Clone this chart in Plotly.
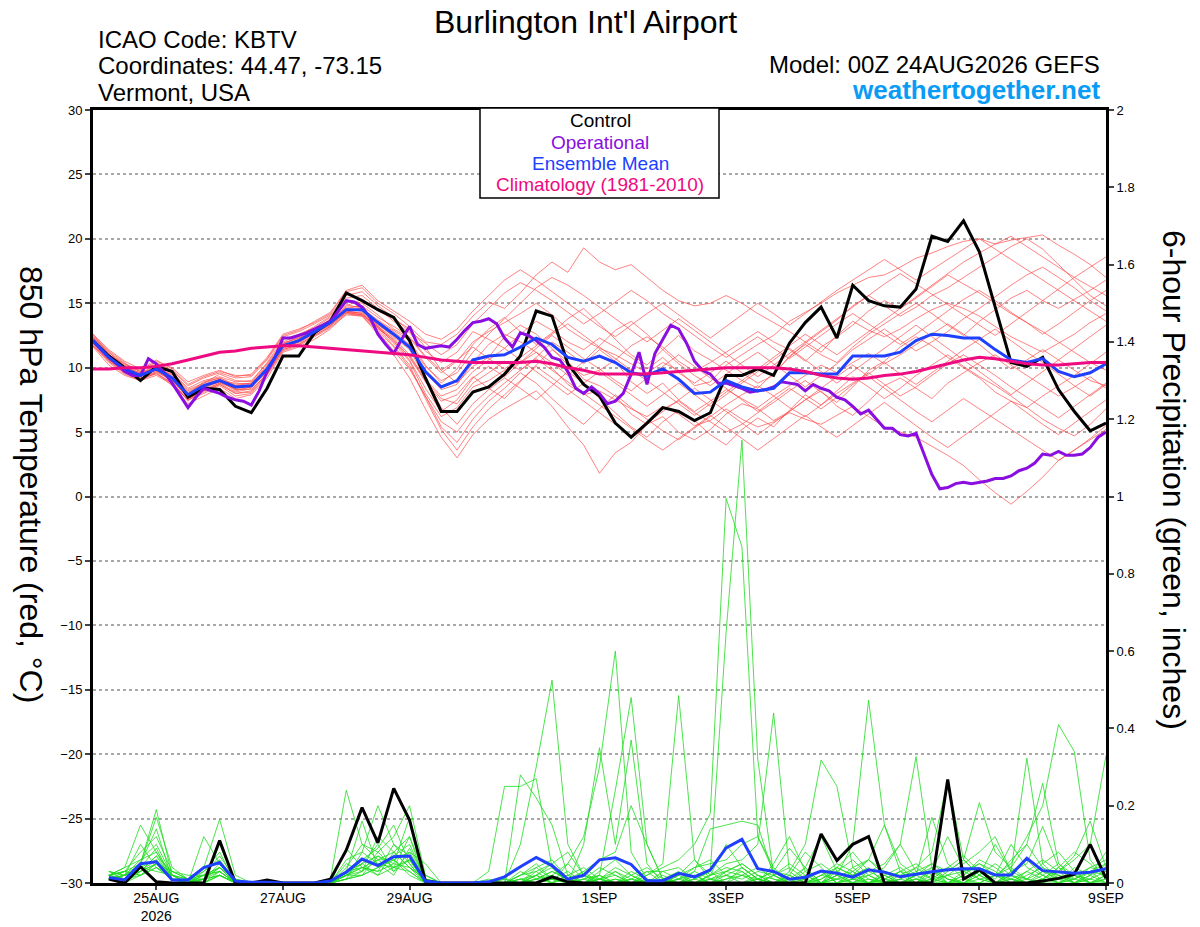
import plotly.graph_objects as go
import pandas as pd

# time axis: GEFS run 00Z 24AUG2026, 6-hourly out to 16 days
times6 = pd.date_range("2026-08-24 00:00", periods=65, freq="6h")
times3 = pd.date_range("2026-08-24 00:00", periods=129, freq="3h")
times_pcp = times6[1:]  # precip starts at the first 6h accumulation

tick_dates = ["2026-08-25", "2026-08-27", "2026-08-29", "2026-09-01",
              "2026-09-03", "2026-09-05", "2026-09-07", "2026-09-09"]
tick_text = ["25AUG<br>2026", "27AUG", "29AUG", "1SEP", "3SEP", "5SEP", "7SEP", "9SEP"]

# 850 hPa temperature (C), 6-hourly
control_t = [12.1, 10.9, 10.0, 9.0, 10.1, 9.7, 7.7, 8.4, 8.3, 7.0,
             6.5, 8.4, 10.9, 10.9, 12.7, 13.6, 15.8, 15.2, 14.5, 13.9,
             12.1, 9.2, 6.6, 6.6, 8.1, 8.5, 9.5, 10.9, 14.4, 14.0,
             10.3, 8.7, 7.8, 5.7, 4.6, 5.7, 6.9, 6.6, 5.9, 6.5,
             9.4, 9.4, 9.9, 9.4, 11.9, 13.5, 14.7, 12.3, 16.4, 15.2,
             14.8, 14.7, 16.1, 20.2, 19.8, 21.4, 19.0, 14.7, 10.4, 10.1,
             10.8, 8.3, 6.6, 5.1, 5.7]

mean_t = [12.1, 10.8, 9.9, 9.4, 9.9, 9.2, 7.9, 8.6, 9.0, 8.5,
          8.6, 9.9, 11.7, 12.1, 12.8, 13.5, 14.5, 14.5, 13.5, 12.6,
          11.6, 9.7, 8.5, 9.0, 10.6, 10.9, 11.0, 11.6, 12.3, 11.8,
          10.8, 10.5, 10.9, 10.4, 9.6, 9.4, 9.9, 9.1, 8.0, 8.1,
          9.0, 8.5, 8.2, 8.4, 9.6, 9.6, 9.5, 9.5, 10.9, 10.9,
          10.9, 11.2, 12.1, 12.6, 12.5, 12.3, 12.3, 11.4, 10.6, 10.4,
          10.7, 9.7, 9.3, 9.6, 10.3]

clim_t = [9.9, 9.9, 10.0, 10.0, 10.1, 10.3, 10.6, 10.9, 11.2, 11.3,
          11.5, 11.6, 11.7, 11.7, 11.6, 11.5, 11.4, 11.3, 11.2, 11.1,
          11.0, 10.8, 10.6, 10.5, 10.4, 10.4, 10.4, 10.4, 10.5, 10.3,
          10.0, 9.8, 9.5, 9.5, 9.5, 9.5, 9.6, 9.7, 9.8, 9.9,
          10.0, 10.0, 10.0, 10.0, 9.9, 9.7, 9.4, 9.2, 9.1, 9.2,
          9.4, 9.5, 9.7, 10.0, 10.3, 10.6, 10.8, 10.7, 10.5, 10.3,
          10.2, 10.2, 10.3, 10.4, 10.4]

# operational run, 3-hourly
oper_t = [12.1, 11.4, 10.8, 10.3, 9.7, 9.4, 9.4, 10.7,
          10.3, 9.6, 8.8, 7.9, 6.9, 7.7, 8.4, 8.2,
          8.0, 7.7, 7.5, 7.4, 7.1, 8.2, 9.7, 10.8,
          12.3, 12.3, 12.5, 12.7, 13.0, 13.3, 13.6, 14.4,
          15.2, 15.1, 14.7, 13.9, 12.6, 11.8, 11.1, 12.2,
          13.2, 11.8, 11.5, 11.6, 11.7, 11.6, 12.2, 12.9,
          13.5, 13.6, 13.8, 13.4, 12.3, 11.6, 12.7, 12.5,
          12.1, 11.6, 10.8, 10.6, 9.7, 8.4, 8.0, 8.5,
          8.0, 7.2, 7.4, 8.0, 9.5, 11.2, 8.7, 11.1,
          12.2, 13.3, 13.0, 11.9, 10.5, 9.8, 9.5, 8.8,
          8.8, 8.6, 8.4, 8.1, 8.2, 8.3, 8.5, 8.9,
          8.8, 8.7, 8.2, 8.7, 8.4, 8.2, 7.7, 7.5,
          7.0, 6.4, 6.7, 6.0, 5.3, 5.3, 4.8, 4.7,
          4.9, 3.3, 1.7, 0.6, 0.7, 1.0, 1.1, 1.0,
          1.1, 1.2, 1.4, 1.4, 1.6, 2.0, 2.2, 2.6,
          3.3, 3.2, 3.5, 3.2, 3.2, 3.3, 3.8, 4.6,
          5.0]

# 20 ensemble members, 850 hPa temperature
members_t = [
    [12.4, 11.2, 10.1, 9.0, 10.2, 9.6, 8.3, 8.8, 9.5, 9.0, 8.9, 10.4, 12.2, 12.6, 13.1,
     13.9, 15.2, 15.0, 14.1, 13.0, 12.3, 10.8, 9.6, 10.5, 12.0, 12.8, 13.5, 14.2, 15.0, 14.1,
     13.0, 12.2, 11.5, 11.0, 10.3, 9.6, 10.4, 9.8, 8.6, 8.9, 10.2, 11.0, 11.8, 12.5, 13.6,
     14.3, 15.0, 15.8, 16.4, 17.0, 17.2, 17.8, 18.5, 18.9, 19.4, 19.8, 20.0, 19.6, 19.9, 20.1,
     20.3, 19.5, 18.8, 18.0, 17.0],
    [11.8, 10.5, 9.6, 9.2, 9.5, 8.8, 7.5, 8.1, 8.7, 8.0, 8.2, 9.6, 11.4, 11.8, 12.5,
     13.2, 14.6, 14.8, 13.2, 11.9, 10.5, 8.0, 6.2, 6.9, 8.5, 9.0, 9.8, 10.4, 11.2, 10.0,
     8.7, 7.9, 8.2, 7.5, 6.8, 6.2, 7.0, 6.4, 5.5, 5.9, 6.8, 6.0, 5.4, 5.8, 6.5,
     6.0, 5.6, 6.3, 7.0, 6.2, 5.4, 5.0, 4.6, 3.9, 3.2, 2.4, 1.3, 0.3, -0.6, 0.4,
     1.5, 2.8, 3.6, 4.5, 5.5],
    [12.6, 11.0, 10.3, 9.8, 10.5, 10.0, 8.9, 9.4, 9.8, 9.3, 9.5, 10.8, 12.6, 13.0, 13.5,
     14.2, 15.9, 16.2, 15.0, 14.2, 13.2, 12.0, 11.8, 12.6, 14.0, 15.1, 14.6, 15.8, 17.2, 18.2,
     17.4, 19.3, 18.2, 17.6, 18.0, 17.0, 16.0, 15.2, 14.8, 15.0, 15.6, 15.0, 14.2, 13.5, 12.8,
     12.0, 11.2, 12.5, 13.6, 12.9, 12.4, 13.0, 13.8, 14.5, 15.0, 14.6, 14.0, 13.2, 12.4, 11.8,
     11.2, 11.9, 12.6, 13.5, 14.2],
    [11.6, 10.2, 9.4, 9.0, 9.6, 8.6, 7.2, 7.8, 8.4, 7.6, 7.9, 9.2, 11.2, 11.6, 12.2,
     13.0, 14.2, 14.0, 12.6, 11.0, 9.2, 6.8, 4.6, 3.0, 4.8, 6.0, 6.8, 7.5, 8.2, 7.0,
     5.4, 4.0, 1.8, 3.4, 4.2, 5.6, 6.2, 5.0, 4.4, 5.2, 6.4, 7.2, 6.8, 5.9, 6.6,
     7.5, 8.2, 7.0, 6.3, 7.4, 8.6, 9.2, 8.4, 7.6, 8.8, 9.6, 10.4, 11.0, 10.2, 9.4,
     8.6, 7.8, 8.5, 9.3, 8.4],
    [12.0, 10.9, 10.0, 9.6, 10.0, 9.4, 8.0, 8.9, 9.2, 8.7, 8.8, 10.0, 11.8, 12.4, 13.0,
     13.6, 14.8, 15.3, 14.4, 13.8, 13.0, 11.6, 9.8, 8.8, 10.1, 10.8, 12.4, 13.3, 12.6, 11.5,
     10.2, 9.4, 9.8, 10.6, 11.7, 12.4, 11.6, 10.5, 9.7, 10.4, 11.2, 12.0, 12.8, 12.0, 11.4,
     10.5, 11.6, 12.4, 13.3, 14.4, 15.2, 14.6, 15.4, 16.3, 17.2, 16.5, 15.8, 15.0, 14.2, 13.5,
     12.8, 12.0, 11.2, 10.4, 9.8],
    [12.3, 11.1, 9.8, 9.1, 9.7, 9.0, 7.7, 8.4, 9.1, 8.3, 8.3, 9.5, 11.5, 11.9, 12.6,
     13.3, 14.3, 14.1, 13.0, 12.2, 10.8, 8.9, 7.4, 7.9, 9.3, 8.4, 7.6, 8.9, 10.2, 11.4,
     10.5, 9.1, 8.6, 7.8, 6.4, 5.6, 6.8, 7.4, 6.5, 5.8, 5.0, 5.6, 6.5, 7.3, 8.2,
     9.0, 8.1, 7.3, 8.5, 9.8, 10.5, 11.6, 12.4, 11.7, 10.8, 10.0, 9.2, 8.1, 7.4, 6.9,
     7.8, 8.6, 9.4, 10.3, 11.2],
    [12.0, 10.6, 9.7, 9.5, 10.1, 9.3, 8.1, 8.6, 8.9, 8.8, 8.7, 10.1, 11.9, 12.3, 12.9,
     13.8, 14.9, 14.6, 13.7, 12.9, 12.1, 10.2, 8.8, 9.9, 11.8, 13.0, 13.9, 12.8, 11.8, 12.7,
     13.8, 14.6, 13.4, 12.2, 11.0, 10.2, 11.4, 12.5, 11.3, 10.6, 9.8, 9.0, 8.4, 9.6, 10.8,
     11.9, 12.8, 13.7, 14.8, 15.6, 14.8, 14.0, 14.7, 15.6, 16.2, 17.0, 17.8, 18.6, 19.4, 20.0,
     19.2, 18.0, 16.8, 15.6, 14.8],
    [12.2, 11.0, 10.2, 9.7, 9.8, 9.1, 7.6, 8.2, 8.8, 8.1, 8.4, 9.7, 11.6, 12.0, 12.7,
     13.4, 14.4, 14.2, 13.1, 12.0, 10.9, 9.0, 7.6, 7.2, 8.8, 9.6, 10.5, 9.8, 10.8, 12.0,
     11.2, 10.3, 11.4, 10.5, 8.9, 8.0, 8.8, 7.5, 6.6, 7.4, 8.3, 7.6, 6.9, 7.8, 8.6,
     9.4, 10.2, 9.6, 10.4, 11.1, 10.3, 11.0, 11.8, 12.6, 13.4, 12.6, 11.8, 10.8, 9.9, 10.6,
     11.4, 10.6, 9.8, 9.0, 8.6],
    [12.5, 11.3, 10.4, 9.3, 10.3, 9.7, 8.4, 9.0, 9.3, 8.9, 9.0, 10.3, 12.0, 12.5, 13.2,
     14.0, 15.4, 15.6, 14.6, 13.6, 12.7, 11.3, 10.4, 11.2, 12.8, 12.2, 11.5, 12.6, 13.6, 12.9,
     12.0, 11.4, 12.3, 11.6, 10.8, 9.9, 10.8, 9.6, 8.8, 9.6, 10.5, 9.6, 8.8, 9.4, 10.9,
     11.8, 11.0, 10.4, 11.6, 12.6, 13.4, 14.2, 15.0, 14.2, 13.3, 12.5, 13.6, 14.5, 15.4, 16.0,
     15.2, 14.6, 15.3, 16.0, 16.8],
    [11.9, 10.7, 9.9, 9.4, 9.9, 8.9, 7.4, 8.5, 9.0, 8.2, 8.5, 9.8, 11.7, 12.2, 12.9,
     13.6, 14.6, 14.4, 13.4, 12.4, 11.4, 9.2, 6.9, 5.6, 7.2, 8.3, 9.2, 8.4, 7.5, 8.6,
     9.7, 8.8, 7.6, 6.5, 5.4, 4.6, 5.8, 6.7, 5.9, 4.8, 4.0, 5.2, 6.1, 5.4, 6.7,
     7.9, 7.1, 8.2, 9.3, 8.5, 7.6, 8.4, 9.4, 10.2, 11.0, 10.1, 9.3, 8.6, 7.8, 6.9,
     6.0, 5.3, 4.7, 5.6, 6.8],
    [12.1, 10.9, 10.0, 9.5, 9.9, 9.5, 8.2, 8.7, 9.1, 8.6, 8.6, 9.9, 11.8, 12.1, 12.8,
     13.5, 14.5, 14.4, 13.3, 12.5, 11.5, 9.6, 8.3, 8.7, 10.4, 11.8, 12.6, 12.0, 11.2, 10.4,
     9.4, 10.5, 11.7, 12.9, 13.6, 12.6, 11.4, 10.3, 9.4, 8.6, 9.5, 10.4, 11.2, 10.3, 9.4,
     8.5, 9.4, 10.3, 11.4, 12.2, 13.0, 12.1, 11.3, 12.0, 12.8, 13.8, 14.6, 15.5, 16.4, 17.2,
     17.8, 17.0, 16.2, 15.2, 14.4],
    [11.7, 10.4, 9.5, 9.0, 9.4, 8.7, 7.5, 8.0, 8.6, 7.8, 8.0, 9.4, 11.3, 11.7, 12.4,
     13.1, 14.1, 14.0, 12.8, 11.3, 9.9, 7.8, 5.4, 4.2, 6.0, 7.4, 8.4, 9.6, 8.8, 7.6,
     6.5, 5.6, 6.8, 7.9, 6.9, 6.0, 5.1, 4.4, 5.3, 6.2, 7.1, 7.9, 8.6, 7.8, 6.9,
     6.2, 7.1, 8.0, 8.8, 9.6, 8.7, 7.8, 8.5, 9.4, 10.3, 11.0, 10.2, 9.4, 8.5, 7.7,
     6.9, 6.1, 7.0, 7.9, 8.8],
    [12.4, 11.2, 10.3, 9.7, 10.4, 9.8, 8.6, 9.2, 9.6, 9.2, 9.3, 10.6, 12.4, 12.8, 13.4,
     14.1, 15.6, 15.9, 14.8, 13.9, 12.8, 11.9, 11.0, 11.8, 13.4, 14.6, 15.8, 16.6, 16.0, 15.2,
     14.3, 13.4, 14.2, 15.1, 16.0, 15.2, 14.2, 13.4, 12.5, 11.6, 10.8, 11.6, 12.4, 11.5, 10.7,
     11.6, 12.5, 13.4, 14.2, 13.4, 12.6, 11.8, 12.6, 13.5, 14.4, 15.3, 16.0, 15.2, 14.3, 13.5,
     12.6, 13.4, 14.3, 15.2, 16.0],
    [11.8, 10.6, 9.7, 9.2, 9.7, 9.0, 7.8, 8.3, 8.8, 8.4, 8.6, 9.8, 11.6, 12.0, 12.7,
     13.4, 14.3, 14.3, 13.2, 12.1, 10.6, 8.4, 6.6, 7.5, 9.2, 10.1, 9.3, 10.4, 11.5, 12.5,
     11.6, 10.7, 9.9, 9.0, 8.2, 9.2, 10.1, 11.0, 10.1, 9.2, 8.4, 7.5, 6.6, 7.5, 8.4,
     7.6, 6.8, 7.7, 8.7, 9.5, 10.4, 9.5, 8.7, 9.6, 10.5, 11.4, 12.2, 13.0, 12.1, 11.2,
     10.4, 9.5, 8.6, 7.8, 8.7],
    [12.3, 10.8, 10.1, 9.6, 10.2, 9.3, 7.9, 8.8, 9.2, 8.6, 8.8, 10.2, 11.9, 12.3, 12.9,
     13.6, 14.7, 14.8, 13.9, 13.2, 12.4, 10.9, 9.8, 10.6, 11.6, 10.7, 9.9, 10.8, 11.7, 12.6,
     13.4, 12.5, 11.6, 10.7, 9.8, 9.0, 8.1, 7.2, 6.3, 7.2, 8.1, 9.0, 9.9, 10.8, 11.7,
     12.6, 11.8, 11.0, 11.9, 12.8, 13.7, 14.6, 15.5, 16.4, 17.3, 18.2, 18.9, 19.6, 20.2, 19.4,
     18.6, 17.8, 17.0, 16.3, 15.6],
    [12.0, 10.6, 9.8, 9.3, 9.8, 9.1, 7.7, 8.4, 8.9, 8.3, 8.5, 9.8, 11.6, 12.0, 12.7,
     13.4, 14.4, 14.2, 13.1, 11.7, 10.2, 7.6, 5.2, 3.6, 5.4, 6.8, 7.9, 9.0, 10.1, 9.2,
     8.3, 7.4, 6.5, 5.6, 4.7, 5.7, 6.6, 7.5, 8.4, 7.5, 6.6, 5.7, 4.8, 5.7, 6.6,
     7.5, 8.4, 9.3, 10.2, 9.3, 8.4, 7.5, 6.6, 5.8, 6.7, 7.6, 6.8, 6.0, 5.2, 4.4,
     3.6, 2.8, 3.6, 4.4, 5.2],
    [12.2, 11.0, 10.0, 9.4, 10.0, 9.2, 7.9, 8.6, 9.0, 8.4, 8.6, 9.9, 11.7, 12.1, 12.8,
     13.5, 14.5, 14.6, 13.6, 12.8, 11.8, 10.1, 9.0, 9.6, 11.2, 12.6, 13.8, 15.0, 16.2, 17.0,
     16.4, 15.6, 14.7, 13.8, 12.9, 12.0, 12.9, 13.8, 12.9, 12.0, 11.1, 10.2, 9.3, 10.2, 11.1,
     12.0, 12.9, 13.8, 14.7, 15.6, 16.5, 17.3, 16.5, 15.7, 14.9, 14.1, 13.3, 12.5, 13.4, 14.3,
     15.2, 16.1, 17.0, 17.8, 18.6],
    [11.9, 10.8, 9.9, 9.5, 9.8, 9.0, 7.8, 8.5, 8.9, 8.5, 8.5, 9.8, 11.6, 12.0, 12.7,
     13.3, 14.3, 14.1, 13.2, 12.3, 11.0, 9.1, 7.8, 8.3, 9.7, 10.6, 11.5, 10.6, 9.7, 8.8,
     7.9, 8.8, 9.7, 8.8, 7.9, 7.0, 7.9, 8.8, 7.9, 7.0, 7.9, 8.8, 9.7, 10.6, 11.5,
     10.6, 9.7, 8.8, 9.7, 10.6, 11.5, 12.4, 13.3, 12.4, 11.5, 10.6, 9.7, 8.8, 7.9, 8.8,
     9.7, 10.6, 11.5, 12.4, 13.3],
    [12.6, 11.4, 10.5, 9.9, 10.6, 9.9, 8.7, 9.3, 9.7, 9.4, 9.4, 10.7, 12.5, 12.9, 13.6,
     14.3, 16.0, 16.4, 15.2, 14.4, 13.6, 12.6, 12.2, 13.0, 14.4, 15.6, 16.8, 17.6, 16.8, 15.9,
     15.0, 14.1, 13.2, 12.4, 13.3, 14.2, 15.0, 14.1, 13.2, 12.3, 13.2, 14.1, 15.0, 14.2, 13.3,
     14.2, 15.1, 16.0, 16.8, 17.6, 18.4, 17.6, 16.8, 17.6, 18.4, 19.2, 20.0, 19.2, 18.4, 17.6,
     16.8, 16.0, 15.2, 14.4, 13.6],
    [11.7, 10.5, 9.6, 9.1, 9.6, 8.8, 7.6, 8.2, 8.7, 8.0, 8.1, 9.5, 11.4, 11.8, 12.5,
     13.2, 14.2, 14.1, 12.9, 11.6, 10.0, 7.8, 5.8, 5.0, 6.6, 7.8, 8.8, 9.8, 10.7, 9.8,
     8.9, 8.0, 7.1, 6.2, 5.3, 4.4, 3.6, 4.5, 5.4, 6.3, 5.4, 4.5, 3.6, 4.5, 5.4,
     6.3, 5.4, 4.6, 5.5, 6.4, 7.3, 6.4, 5.5, 4.6, 3.8, 4.7, 5.6, 6.5, 7.4, 6.5,
     5.6, 4.8, 5.7, 6.6, 7.5],
]

# 6-hour precipitation (inches), from 06Z 24AUG
control_p = [0.01, 0.00, 0.042, 0.003, 0.00, 0.00, 0.00, 0.11,
             0.00, 0.00, 0.008, 0.00, 0.00, 0.00, 0.01, 0.085,
             0.195, 0.104, 0.245, 0.163, 0.005, 0.00, 0.00, 0.00,
             0.00, 0.00, 0.00, 0.00, 0.016, 0.003, 0.00, 0.00,
             0.00, 0.00, 0.00, 0.00, 0.00, 0.00, 0.00, 0.00,
             0.00, 0.00, 0.00, 0.00, 0.00, 0.127, 0.058, 0.10,
             0.12, 0.00, 0.00, 0.00, 0.00, 0.268, 0.01, 0.034,
             0.00, 0.00, 0.00, 0.005, 0.012, 0.023, 0.10, 0.012]

mean_p = [0.014, 0.008, 0.05, 0.055, 0.008, 0.008, 0.04, 0.053,
          0.005, 0.002, 0.002, 0.00, 0.00, 0.00, 0.005, 0.028,
          0.062, 0.045, 0.068, 0.07, 0.005, 0.00, 0.00, 0.00,
          0.003, 0.016, 0.042, 0.066, 0.045, 0.01, 0.02, 0.06,
          0.065, 0.048, 0.006, 0.006, 0.025, 0.016, 0.034, 0.091,
          0.113, 0.037, 0.03, 0.01, 0.015, 0.031, 0.025, 0.015,
          0.034, 0.028, 0.016, 0.023, 0.029, 0.034, 0.037, 0.037,
          0.021, 0.021, 0.064, 0.032, 0.028, 0.025, 0.028, 0.037]

members_p = [
    [.02, .03, .08, .12, .03, .01, .01, .05, 0, 0, 0, 0, 0, 0, 0, .04,
     .10, .06, .03, .08, .01, 0, 0, 0, 0, 0, .10, .30, .525, .10, .02, 0,
     0, .01, 0, 0, 0, 0, .02, .03, .05, .02, 0, 0, .01, .03, 0, 0,
     0, .02, .04, .01, 0, 0, .03, .05, .02, 0, 0, .01, .03, 0, .02, .04],
    [.01, .02, .05, .19, .02, 0, .02, .04, .01, 0, 0, 0, 0, 0, 0, .02,
     .04, .06, .06, .03, 0, 0, 0, 0, 0, .01, 0, .02, .04, 0, 0, .01,
     0, 0, .02, .04, .06, .10, .18, .995, .87, .12, .03, 0, 0, .01, .04, .02,
     0, 0, .01, .03, .05, .02, 0, 0, 0, .03, .06, .02, 0, .01, .03, 0],
    [.03, .01, .04, .06, .01, 0, .03, .06, 0, 0, 0, 0, 0, 0, .01, .24,
     .10, .08, .04, .12, 0, 0, 0, 0, 0, 0, .02, .05, .01, 0, 0, .03,
     .06, .02, 0, 0, 0, .01, .03, .65, 1.146, .32, .02, 0, 0, 0, 0, .03,
     .06, .02, 0, 0, .01, .04, .07, .03, 0, 0, .01, .05, .08, .03, 0, 0],
    [.01, 0, .03, .05, .01, 0, .02, .03, 0, 0, 0, 0, 0, 0, 0, .01,
     .03, .08, .12, .20, .02, 0, 0, 0, 0, 0, .03, .01, 0, .05, .12, .30,
     .60, .08, .01, 0, 0, .02, 0, 0, 0, .01, .03, .02, 0, 0, .02, .10,
     .473, .15, .03, 0, 0, 0, .02, .06, .04, .01, 0, 0, 0, .02, .04, .06],
    [.02, .04, .15, .08, .02, .01, 0, .02, 0, 0, 0, 0, 0, 0, 0, .03,
     .05, .02, .04, .06, .01, 0, 0, 0, 0, 0, 0, .04, .06, .01, 0, .02,
     .24, .48, .10, .01, 0, 0, .01, .02, .04, .01, 0, 0, .03, .05, .02, 0,
     0, .01, 0, .02, .03, 0, 0, .01, .02, .05, .12, .20, .41, .34, .06, .01],
    [.01, .02, .03, .07, .01, 0, .04, .165, .02, 0, 0, 0, 0, 0, 0, .02,
     .06, .09, .15, .05, 0, 0, 0, 0, .01, 0, 0, .02, 0, .01, .03, 0,
     .01, 0, .02, .05, .485, .06, .01, 0, 0, 0, .02, .04, .01, 0, .03, .06,
     .02, 0, 0, .01, 0, .03, .06, .02, 0, .01, 0, .02, .05, .02, 0, .01],
    [.02, .03, .05, .17, .04, .01, .01, .02, 0, 0, 0, 0, 0, 0, 0, .05,
     .03, .12, .08, .04, .01, 0, 0, 0, 0, 0, .01, 0, .02, 0, .01, .04,
     .02, 0, 0, .01, .03, 0, .02, .05, .06, .10, .44, .03, 0, 0, .01, .04,
     .06, .03, 0, 0, .01, .02, .05, .08, .12, .03, .323, .05, .01, 0, .03, .02],
    [.01, .01, .02, .04, .01, 0, 0, .03, 0, 0, 0, 0, 0, 0, 0, .06,
     .08, .20, .10, .05, 0, 0, 0, 0, 0, 0, .02, .04, .01, 0, 0, 0,
     .03, .01, 0, 0, .01, .04, .06, .02, 0, .01, 0, .03, .10, .318, .25, .04,
     .01, 0, .03, .05, .02, 0, 0, .03, .01, .06, .10, .04, 0, .02, .01, 0],
    [.03, .02, .06, .10, .02, 0, .01, .04, 0, 0, 0, 0, 0, 0, 0, .01,
     .02, .04, .07, .10, .01, 0, 0, 0, 0, .01, 0, .03, .05, 0, .10, .35,
     .10, .37, .05, 0, 0, .01, .03, 0, .02, .04, .01, 0, 0, .02, .05, .03,
     0, 0, .01, .04, .08, .266, .06, .02, 0, .01, 0, .03, .02, 0, .01, .05],
    [.01, 0, .02, .05, .03, .02, .02, .07, .01, 0, 0, 0, 0, 0, 0, .02,
     .04, .03, .10, .07, 0, 0, 0, 0, .03, .25, .25, .27, .04, 0, .01, .02,
     0, 0, .01, 0, .02, 0, 0, .01, .03, 0, .02, .05, .02, 0, 0, .01,
     0, .03, .02, 0, .04, .01, 0, 0, .02, .04, .01, 0, .03, .06, .10, .33],
    [.02, .01, .04, .09, .01, .01, .03, .08, 0, 0, 0, 0, 0, 0, 0, .03,
     .06, .05, .02, .09, .01, 0, 0, 0, 0, 0, .28, .22, .15, .02, 0, .01,
     .03, 0, 0, .02, 0, .03, .01, 0, 0, .02, 0, .01, .04, 0, .02, 0,
     .03, .05, .10, .327, .04, 0, .01, .03, 0, .02, 0, .01, .04, 0, .02, 0],
    [.01, .02, .03, .06, .02, 0, .12, .05, 0, 0, 0, 0, 0, 0, 0, .03,
     .16, .04, .06, .02, 0, 0, 0, 0, 0, 0, 0, .01, .03, .01, 0, 0,
     0, .02, .04, .01, 0, 0, .01, .03, .02, 0, 0, 0, .01, .03, 0, .02,
     .04, 0, 0, .02, .05, .03, .06, .208, .08, .04, .10, .258, .05, .01, 0, .02],
    [.02, .03, .02, .04, .01, 0, .01, .04, 0, 0, 0, 0, 0, 0, 0, .01,
     .02, .07, .05, .17, .01, 0, 0, 0, 0, 0, .01, .02, 0, .02, .04, .01,
     0, 0, 0, .03, .01, .02, 0, 0, .04, .01, 0, .02, 0, .02, .04, .02,
     .06, .15, .05, .02, .17, .05, .01, 0, .02, .01, .03, .06, .03, .07, .16, .04],
    [.02, .01, .05, .14, .01, .01, .02, .03, 0, 0, 0, 0, 0, 0, 0, .09,
     .04, .03, .05, .04, 0, 0, 0, 0, 0, 0, 0, 0, .01, .03, 0, .01,
     .02, 0, .01, 0, .02, .06, .02, .04, .03, 0, .05, .12, .03, 0, .01, .02,
     0, .01, .03, 0, .02, .04, .03, .01, 0, .03, .05, .146, .04, .02, 0, .01],
    [.03, .02, .10, .04, .02, 0, .01, .10, 0, 0, 0, 0, 0, 0, 0, .03,
     .05, .10, .03, .06, 0, 0, 0, 0, 0, 0, .01, 0, .02, 0, .03, .06,
     .08, .20, .10, .01, 0, 0, 0, .02, .01, .03, .02, 0, .04, .12, .03, 0,
     .01, 0, .02, .04, .01, 0, 0, .02, .05, .02, 0, .01, 0, .04, .02, .08],
    [.01, .02, .03, .05, .01, 0, .01, .02, 0, 0, 0, 0, 0, 0, 0, .02,
     .03, .06, .08, .12, .02, 0, 0, 0, 0, 0, 0, .02, .05, .08, .02, 0,
     .01, 0, 0, .01, .02, .04, .05, .06, .10, .12, .04, 0, 0, .01, .03, .01,
     0, .02, 0, .01, .03, .01, 0, .02, .10, .03, .01, 0, .02, .01, .04, .03],
    [.02, .04, .06, .08, .01, 0, 0, .02, 0, 0, 0, 0, 0, 0, 0, .01,
     .08, .05, .04, .03, 0, 0, 0, 0, 0, 0, 0, .01, .02, .05, .01, 0,
     0, .01, .03, 0, .01, 0, .02, .10, .04, .01, 0, .02, .08, .04, 0, .01,
     .02, 0, .01, 0, .03, .12, .04, .01, 0, .02, .01, .03, .01, .03, 0, .02],
    [.01, .02, .04, .03, .02, .01, 0, .02, 0, 0, 0, 0, 0, 0, 0, .02,
     .02, .04, .06, .08, .05, 0, 0, 0, 0, 0, 0, 0, .01, 0, .02, .01,
     0, 0, .03, .03, .04, .01, 0, .03, .05, .02, .01, 0, .02, 0, .04, .08,
     .03, .01, 0, .02, 0, .02, .03, .04, .02, .10, .04, .02, 0, .01, .03, .05],
    [.02, .01, .03, .07, .03, .01, .02, .04, 0, 0, 0, 0, 0, 0, 0, .02,
     .05, .07, .04, .06, 0, 0, 0, 0, 0, 0, .02, .03, 0, .02, 0, .01,
     .04, .02, 0, 0, .01, .03, .14, .15, .16, .15, .02, 0, 0, .02, .01, 0,
     .02, .04, .10, .03, .01, 0, .02, .05, .03, 0, .02, .04, .02, 0, .01, .03],
    [.01, .03, .02, .05, .01, 0, .01, .03, 0, 0, 0, 0, 0, 0, 0, .03,
     .04, .02, .08, .04, .01, 0, 0, 0, 0, 0, 0, .01, .03, .01, 0, .02,
     0, .03, .01, 0, 0, .02, 0, .01, .02, .01, .03, .09, .04, 0, .02, .03,
     0, .01, .03, .02, .04, .01, 0, .03, .02, 0, .03, .01, .04, .08, .05, .01],
]

# colours
RED = "rgba(255,70,70,0.85)"
GREEN = "rgb(30,220,30)"
PURPLE = "#8a0ee0"
BLUE = "#2040ff"
MAGENTA = "#ee0a80"
FONT = "Liberation Sans, Arial, Helvetica, sans-serif"

fig = go.Figure()

for m in members_t:
    fig.add_trace(go.Scatter(x=times6, y=m, mode="lines",
                             line=dict(color=RED, width=0.8), yaxis="y"))
for m in members_p:
    fig.add_trace(go.Scatter(x=times_pcp, y=m, mode="lines",
                             line=dict(color=GREEN, width=0.8), yaxis="y2"))

# precip: control + ensemble mean
fig.add_trace(go.Scatter(x=times_pcp, y=control_p, mode="lines",
                         line=dict(color="black", width=3), yaxis="y2"))
fig.add_trace(go.Scatter(x=times_pcp, y=mean_p, mode="lines",
                         line=dict(color=BLUE, width=3), yaxis="y2"))

# temperature: control, operational, mean, climatology
fig.add_trace(go.Scatter(x=times6, y=control_t, mode="lines",
                         line=dict(color="black", width=3), yaxis="y"))
fig.add_trace(go.Scatter(x=times3, y=oper_t, mode="lines",
                         line=dict(color=PURPLE, width=3), yaxis="y"))
fig.add_trace(go.Scatter(x=times6, y=mean_t, mode="lines",
                         line=dict(color=BLUE, width=3), yaxis="y"))
fig.add_trace(go.Scatter(x=times6, y=clim_t, mode="lines",
                         line=dict(color=MAGENTA, width=3), yaxis="y"))

# plot area in page pixels: x 93..1106, y 110..883 (body margin removed below)
L, R, T, B = 93, 1106, 110, 883
W, H = 1200, 927


def px(x):
    return (x - L) / (R - L)


def py(y):
    return (B - y) / (B - T)


def note(text, x, y, size, xanchor="left", color="black", angle=0):
    fig.add_annotation(text=text, xref="paper", yref="paper", x=px(x), y=py(y),
                       xanchor=xanchor, yanchor="middle", showarrow=False,
                       textangle=angle, font=dict(family=FONT, size=size, color=color))


note("Burlington Int'l Airport", 585, 22, 32, xanchor="center")
note("ICAO Code: KBTV", 96, 40, 24)
note("Coordinates: 44.47, -73.15", 96, 66, 24)
note("Vermont, USA", 96, 93, 24)
note("Model: 00Z 24AUG2026 GEFS", 1102, 64, 24, xanchor="right")
note("<b>weathertogether.net</b>", 1102, 90, 26, xanchor="right", color="#0a9cf5")
note("850 hPa Temperature (red, °C)", 31, 484, 32, xanchor="center", angle=90)
note("6-hour Precipitation (green, inches)", 1174, 480, 32, xanchor="center", angle=90)

# legend box
fig.add_shape(type="rect", xref="paper", yref="paper",
              x0=px(480), x1=px(719), y0=py(198), y1=py(108),
              line=dict(color="black", width=1.5), fillcolor="white", layer="above")
legend_items = [("Control", "black", 121), ("Operational", PURPLE, 142),
                ("Ensemble Mean", BLUE, 163), ("Climatology (1981-2010)", MAGENTA, 185)]
for label, col, ly in legend_items:
    note(label, 600, ly, 19, xanchor="center", color=col)

fig.update_layout(
    width=W, height=H, autosize=False,
    margin=dict(l=L, r=W - R, t=T, b=H - B),
    paper_bgcolor="white", plot_bgcolor="white",
    showlegend=False,
    font=dict(family=FONT, size=13, color="black"),
    xaxis=dict(range=[times6[0], times6[-1]], tickvals=tick_dates, ticktext=tick_text,
               showgrid=False, showline=True, linewidth=3, linecolor="black", mirror=True,
               ticks="outside", ticklen=4, tickwidth=1.5, zeroline=False,
               ticklabelstandoff=-4, automargin=False, tickfont=dict(size=14)),
    yaxis=dict(range=[-30, 30], tickvals=list(range(-30, 31, 5)),
               showgrid=True, gridcolor="#a8a8a8", griddash="dot", gridwidth=1.5,
               showline=True, linewidth=3, linecolor="black", zeroline=False,
               automargin=False,
               ticks="outside", ticklen=5, tickwidth=1.5, tickfont=dict(size=13)),
    yaxis2=dict(range=[0, 2], tickvals=[0, 0.2, 0.4, 0.6, 0.8, 1, 1.2, 1.4, 1.6, 1.8, 2],
                overlaying="y", side="right", showgrid=False, zeroline=False,
                showline=True, linewidth=3, linecolor="black", automargin=False,
                ticks="outside", ticklen=5, tickwidth=1.5, tickfont=dict(size=13)),
)

# drop the default 8px page margin so the figure fills the window exactly
fig.write_html("out.html", config={"displayModeBar": False},
               post_script="document.body.style.margin = '0px';")
